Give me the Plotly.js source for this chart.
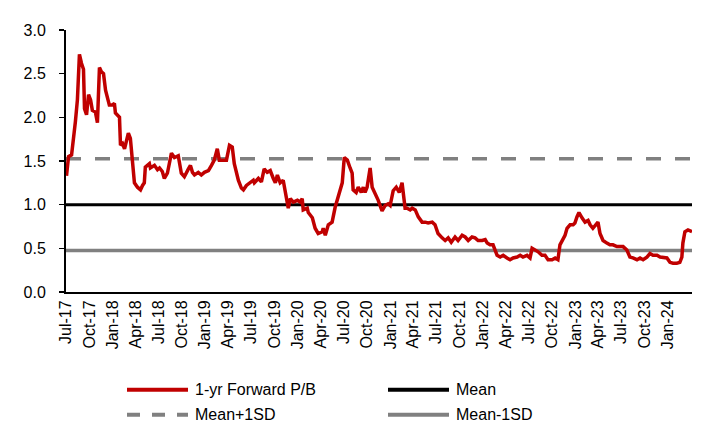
<!DOCTYPE html>
<html>
<head>
<meta charset="utf-8">
<script src="https://cdn.plot.ly/plotly-3.0.1.min.js"></script>
<style>html,body{margin:0;padding:0;background:#fff;}#chart{width:701px;height:426px;}</style>
</head>
<body>
<div id="chart"></div>
<script>
// 1-yr Forward P/B
const dates = [
"2017-07-03","2017-07-11","2017-07-23","2017-07-31","2017-08-07","2017-08-15","2017-08-23","2017-08-31","2017-09-08","2017-09-12",
"2017-09-20","2017-09-28","2017-10-06","2017-10-13","2017-10-25","2017-11-02","2017-11-10","2017-11-18","2017-11-26","2017-12-04",
"2017-12-12","2017-12-19","2017-12-31","2018-01-08","2018-01-12","2018-01-28","2018-02-01","2018-02-09","2018-02-17","2018-02-24",
"2018-03-04","2018-03-12","2018-03-20","2018-03-28","2018-04-09","2018-04-21","2018-04-29","2018-05-06","2018-05-10","2018-05-18",
"2018-05-26","2018-05-30","2018-06-07","2018-06-15","2018-06-27","2018-07-05","2018-07-16","2018-07-24","2018-08-05","2018-08-21",
"2018-09-02","2018-09-17","2018-09-29","2018-10-11","2018-10-27","2018-11-04","2018-11-12","2018-11-20","2018-12-05","2018-12-17",
"2018-12-29","2019-01-14","2019-01-26","2019-02-06","2019-02-18","2019-02-26","2019-03-14","2019-03-26","2019-04-07","2019-04-18",
"2019-04-26","2019-05-12","2019-05-24","2019-06-01","2019-06-13","2019-06-24","2019-07-10","2019-07-14","2019-07-30","2019-08-11",
"2019-08-22","2019-09-03","2019-09-15","2019-09-27","2019-10-05","2019-10-13","2019-10-24","2019-11-05","2019-11-13","2019-11-21",
"2019-11-25","2019-12-03","2019-12-15","2019-12-31","2020-01-11","2020-01-19","2020-01-23","2020-02-08","2020-02-12","2020-02-28",
"2020-03-10","2020-03-22","2020-04-07","2020-04-11","2020-04-19","2020-05-01","2020-05-16","2020-05-28","2020-06-09","2020-06-25",
"2020-07-03","2020-07-15","2020-07-26","2020-08-03","2020-08-07","2020-08-19","2020-08-27","2020-09-08","2020-09-16","2020-09-23",
"2020-10-01","2020-10-13","2020-10-21","2020-11-02","2020-11-14","2020-11-29","2020-12-11","2020-12-23","2020-12-31","2021-01-12",
"2021-01-24","2021-02-05","2021-02-16","2021-02-28","2021-03-08","2021-03-20","2021-03-28","2021-04-09","2021-04-21","2021-05-06",
"2021-05-18","2021-05-30","2021-06-15","2021-06-26","2021-07-08","2021-07-24","2021-08-05","2021-08-17","2021-08-29","2021-09-13",
"2021-09-25","2021-10-11","2021-10-23","2021-11-04","2021-11-19","2021-12-01","2021-12-13","2021-12-29","2022-01-10","2022-01-18",
"2022-01-29","2022-02-10","2022-02-26","2022-03-10","2022-03-22","2022-04-06","2022-04-18","2022-04-30","2022-05-16","2022-05-28",
"2022-06-08","2022-06-24","2022-07-06","2022-07-14","2022-07-26","2022-08-07","2022-08-22","2022-09-03","2022-09-15","2022-10-01",
"2022-10-13","2022-10-24","2022-11-01","2022-11-09","2022-11-21","2022-11-29","2022-12-11","2022-12-23","2022-12-30","2023-01-07",
"2023-01-15","2023-01-27","2023-02-08","2023-02-20","2023-02-28","2023-03-11","2023-03-27","2023-03-31","2023-04-08","2023-04-20",
"2023-05-05","2023-05-17","2023-05-29","2023-06-14","2023-06-26","2023-07-08","2023-07-23","2023-08-04","2023-08-16","2023-09-01",
"2023-09-13","2023-09-25","2023-10-10","2023-10-22","2023-11-03","2023-11-19","2023-12-01","2023-12-12","2023-12-28","2024-01-09",
"2024-01-21","2024-02-05","2024-02-17","2024-02-25","2024-02-29","2024-03-08","2024-03-20","2024-04-05"
];
const pb = [
1.33,1.55,1.57,1.75,1.95,2.20,2.72,2.62,2.55,2.10,
2.03,2.26,2.20,2.08,2.06,1.94,2.57,2.52,2.50,2.31,
2.20,2.14,2.14,2.16,2.05,2.00,1.68,1.70,1.64,1.72,
1.82,1.76,1.52,1.25,1.20,1.17,1.22,1.25,1.43,1.45,
1.47,1.42,1.44,1.45,1.40,1.42,1.38,1.30,1.36,1.59,
1.54,1.56,1.36,1.32,1.41,1.45,1.37,1.34,1.37,1.34,
1.37,1.39,1.45,1.51,1.64,1.51,1.51,1.51,1.68,1.66,
1.47,1.28,1.19,1.17,1.22,1.25,1.28,1.25,1.30,1.26,
1.41,1.37,1.39,1.30,1.25,1.34,1.25,1.28,1.17,1.05,
0.96,1.07,1.03,1.05,1.03,1.07,0.94,0.96,0.91,0.85,
0.73,0.67,0.69,0.73,0.65,0.77,0.80,0.97,1.09,1.25,
1.54,1.51,1.42,1.36,1.17,1.14,1.20,1.14,1.20,1.14,
1.20,1.42,1.20,1.13,1.05,0.93,0.99,1.01,0.99,1.16,
1.20,1.14,1.25,0.96,0.96,0.94,0.96,0.94,0.86,0.80,
0.80,0.79,0.80,0.77,0.67,0.62,0.59,0.62,0.57,0.63,
0.59,0.65,0.63,0.59,0.63,0.62,0.59,0.59,0.60,0.56,
0.54,0.54,0.42,0.40,0.42,0.39,0.37,0.39,0.40,0.42,
0.40,0.42,0.39,0.50,0.48,0.46,0.42,0.42,0.37,0.37,
0.39,0.37,0.54,0.59,0.65,0.73,0.77,0.77,0.79,0.86,
0.91,0.85,0.80,0.82,0.77,0.73,0.79,0.80,0.67,0.59,
0.56,0.54,0.54,0.52,0.52,0.52,0.48,0.40,0.39,0.37,
0.39,0.37,0.40,0.44,0.42,0.42,0.40,0.40,0.39,0.34,
0.33,0.33,0.34,0.40,0.56,0.69,0.71,0.69
];
const meanVal = 1.0;
const sdVal = 0.525;
const xStart = "2017-07-01";
const xEnd = "2024-04-05";
const seriesNames = ["1-yr Forward P/B", "Mean", "Mean+1SD", "Mean-1SD"];
const tickDates = ["2017-07-01","2017-10-01","2018-01-01","2018-04-01","2018-07-01","2018-10-01","2019-01-01","2019-04-01",
  "2019-07-01","2019-10-01","2020-01-01","2020-04-01","2020-07-01","2020-10-01","2021-01-01","2021-04-01","2021-07-01",
  "2021-10-01","2022-01-01","2022-04-01","2022-07-01","2022-10-01","2023-01-01","2023-04-01","2023-07-01","2023-10-01","2024-01-01"];
const tickLabels = ["Jul-17","Oct-17","Jan-18","Apr-18","Jul-18","Oct-18","Jan-19","Apr-19","Jul-19","Oct-19","Jan-20","Apr-20",
  "Jul-20","Oct-20","Jan-21","Apr-21","Jul-21","Oct-21","Jan-22","Apr-22","Jul-22","Oct-22","Jan-23","Apr-23","Jul-23","Oct-23","Jan-24"];

const FONT = "Arial, 'Liberation Sans', sans-serif";
const COLORS = ["#C00000", "#000000", "#808080", "#808080"];
const DASHES = ["solid", "solid", "15px,14px", "solid"];
const span = [xStart, xEnd];

const traces = [
  {x: span, y: [meanVal, meanVal], type: "scatter", mode: "lines", name: seriesNames[1],
   line: {color: COLORS[1], width: 3}},
  {x: span, y: [meanVal + sdVal, meanVal + sdVal], type: "scatter", mode: "lines", name: seriesNames[2],
   line: {color: COLORS[2], width: 3.5, dash: DASHES[2]}},
  {x: span, y: [meanVal - sdVal, meanVal - sdVal], type: "scatter", mode: "lines", name: seriesNames[3],
   line: {color: COLORS[3], width: 3.5}},
  {x: dates, y: pb, type: "scatter", mode: "lines", name: seriesNames[0],
   line: {color: COLORS[0], width: 3.5}}
];

// Plot area in page pixels (for the hand-placed legend)
const PL = 66, PR = 692, PT = 29.5, PB = 292;
const px2x = p => (p - PL) / (PR - PL);
const px2y = p => (PB - p) / (PB - PT);
const legendRows = [390, 415];
const legendCols = [127, 388];
const shapes = [], annotations = [];
seriesNames.forEach((nm, i) => {
  const col = i % 2, row = Math.floor(i / 2);
  const y = px2y(legendRows[row]);
  shapes.push({type: "line", xref: "paper", yref: "paper", x0: px2x(legendCols[col]), x1: px2x(legendCols[col] + 61),
    y0: y, y1: y, line: {color: COLORS[i], width: 4, dash: i === 2 ? "13px,12px" : "solid"}});
  annotations.push({xref: "paper", yref: "paper", x: px2x(legendCols[col] + 66), y: y, xanchor: "left", yanchor: "middle",
    text: nm, showarrow: false, font: {family: FONT, size: 16, color: "#000"}});
});

const layout = {
  width: 701, height: 426,
  margin: {l: PL, r: 701 - PR, t: PT, b: 426 - PB, pad: 0},
  paper_bgcolor: "#fff", plot_bgcolor: "#fff",
  font: {family: FONT, size: 16, color: "#000"},
  showlegend: false,
  xaxis: {type: "date", range: [xStart, xEnd], tickmode: "array", tickvals: tickDates, ticktext: tickLabels,
    tickangle: -90, ticks: "", showgrid: false, zeroline: false, showline: true, linecolor: "#000", linewidth: 2,
    tickfont: {family: FONT, size: 16, color: "#000"}, ticklabelstandoff: 0, automargin: false},
  yaxis: {range: [0, 3], dtick: 0.5, tickformat: ".1f", ticks: "outside", ticklen: 5, tickwidth: 1.5, tickcolor: "#000",
    showgrid: false, zeroline: false, showline: true, linecolor: "#000", linewidth: 2,
    tickfont: {family: FONT, size: 16, color: "#000"}, ticklabelstandoff: 10, automargin: false},
  shapes: shapes,
  annotations: annotations
};

Plotly.newPlot("chart", traces, layout, {displayModeBar: false, staticPlot: true});
</script>
</body>
</html>
